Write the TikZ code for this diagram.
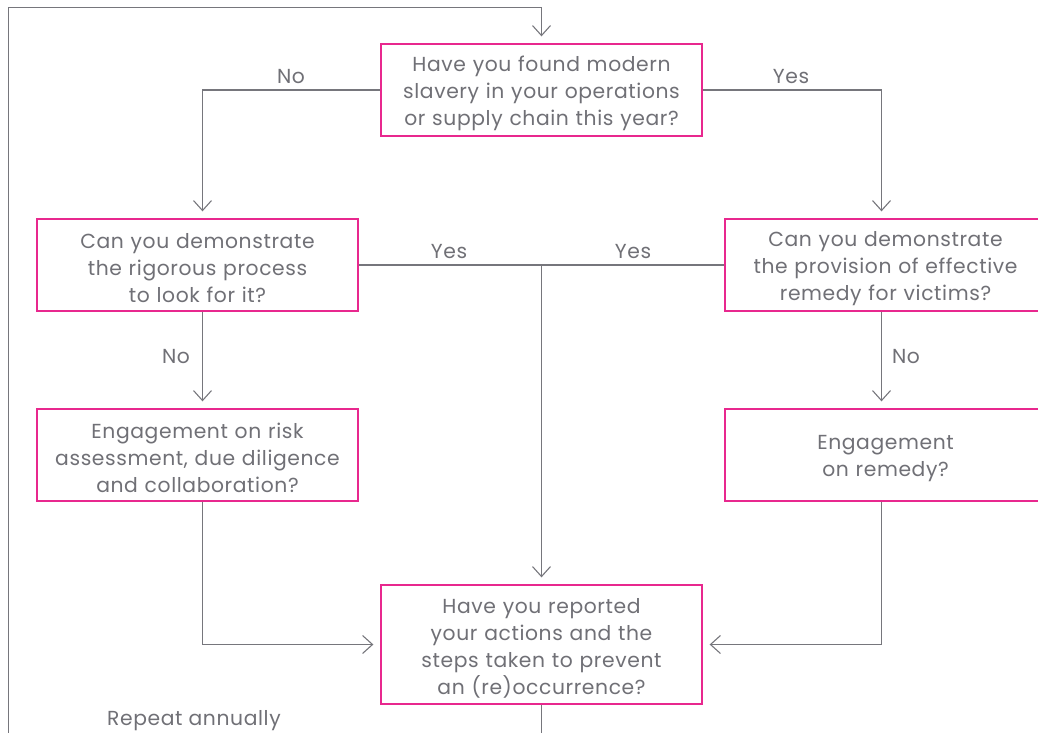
\documentclass[tikz,border=0pt]{standalone}
\usepackage{fontspec}
\setmainfont{Poppins}[LetterSpace=3]
\usetikzlibrary{arrows.meta, positioning, calc}
\definecolor{boxpink}{RGB}{232,40,142}
\definecolor{linegrey}{RGB}{118,118,124}
\definecolor{textgrey}{RGB}{112,112,118}
\tikzset{
    qbox/.style={draw=boxpink, line width=1.3pt, fill=white, minimum width=321pt,
        minimum height=92pt, text width=315pt, align=center, text=textgrey,
        font=\fontsize{20.3}{27}\selectfont, inner sep=0pt,
        execute at begin node={\rule{0pt}{22pt}}},
    flow/.style={draw=linegrey, line width=1.1pt},
    barb/.style={flow, -{Straight Barb[length=10pt, width=18pt]}},
    lbl/.style={text=textgrey, font=\fontsize{20.3}{22}\selectfont, inner sep=0pt}
}
\begin{document}
\begin{tikzpicture}[x=1pt, y=-1pt]
    \useasboundingbox (0,0) rectangle (1038,733);
    % question boxes
    \node[qbox] (qTop) at (541.5, 90) {Have you found modern\\slavery in your operations\\or supply chain this year?};
    \node[qbox] (qL1) at (197.5, 265) {Can you demonstrate\\the rigorous process\\to look for it?};
    \node[qbox] (qR1) at (885.5, 265) {Can you demonstrate\\the provision of effective\\remedy for victims?};
    \node[qbox] (qL2) at (197.5, 455) {Engagement on risk\\assessment, due diligence\\and collaboration?};
    \node[qbox] (qR2) at (885.5, 455) {Engagement\\on remedy?};
    \node[qbox, minimum height=119pt] (qBot) at (541.5, 644.5) {Have you reported\\your actions and the\\steps taken to prevent\\an (re)occurrence?};
    % loose ends
    \coordinate (loopStart) at (8.5, 733);
    \coordinate (loopOut) at (541.5, 733);
    \coordinate (junction) at (541.5, 265);
    % connectors
    \draw[barb] (loopStart) |- (541.5, 7.5) -- ([yshift=7pt]qTop.north);
    \draw[flow] (qBot.south) -- (loopOut);
    \draw[barb] (qTop.west) -| ([yshift=7pt, xshift=5pt]qL1.north);
    \draw[barb] (qTop.east) -| ([yshift=7pt, xshift=-4pt]qR1.north);
    \draw[flow] (qL1.east) -- (qR1.west);
    \draw[barb] (junction) -- ([yshift=7pt]qBot.north);
    \draw[barb] ([xshift=5pt]qL1.south) -- ([yshift=7pt, xshift=5pt]qL2.north);
    \draw[barb] ([xshift=-4pt]qR1.south) -- ([yshift=7pt, xshift=-4pt]qR2.north);
    \draw[barb] ([xshift=5pt]qL2.south) |- ([xshift=-7pt]qBot.west);
    \draw[barb] ([xshift=-4pt]qR2.south) |- ([xshift=7pt]qBot.east);
    % labels
    \node[lbl] (noTop) at (291, 77) {No};
    \node[lbl] (yesTop) at (791, 77) {Yes};
    \node[lbl] (yesL) at (449, 252) {Yes};
    \node[lbl] (yesR) at (633, 252) {Yes};
    \node[lbl] (noL) at (176, 357) {No};
    \node[lbl] (noR) at (906, 357) {No};
    \node[lbl] (repeat) at (194, 721) {Repeat annually};
\end{tikzpicture}
\end{document}
